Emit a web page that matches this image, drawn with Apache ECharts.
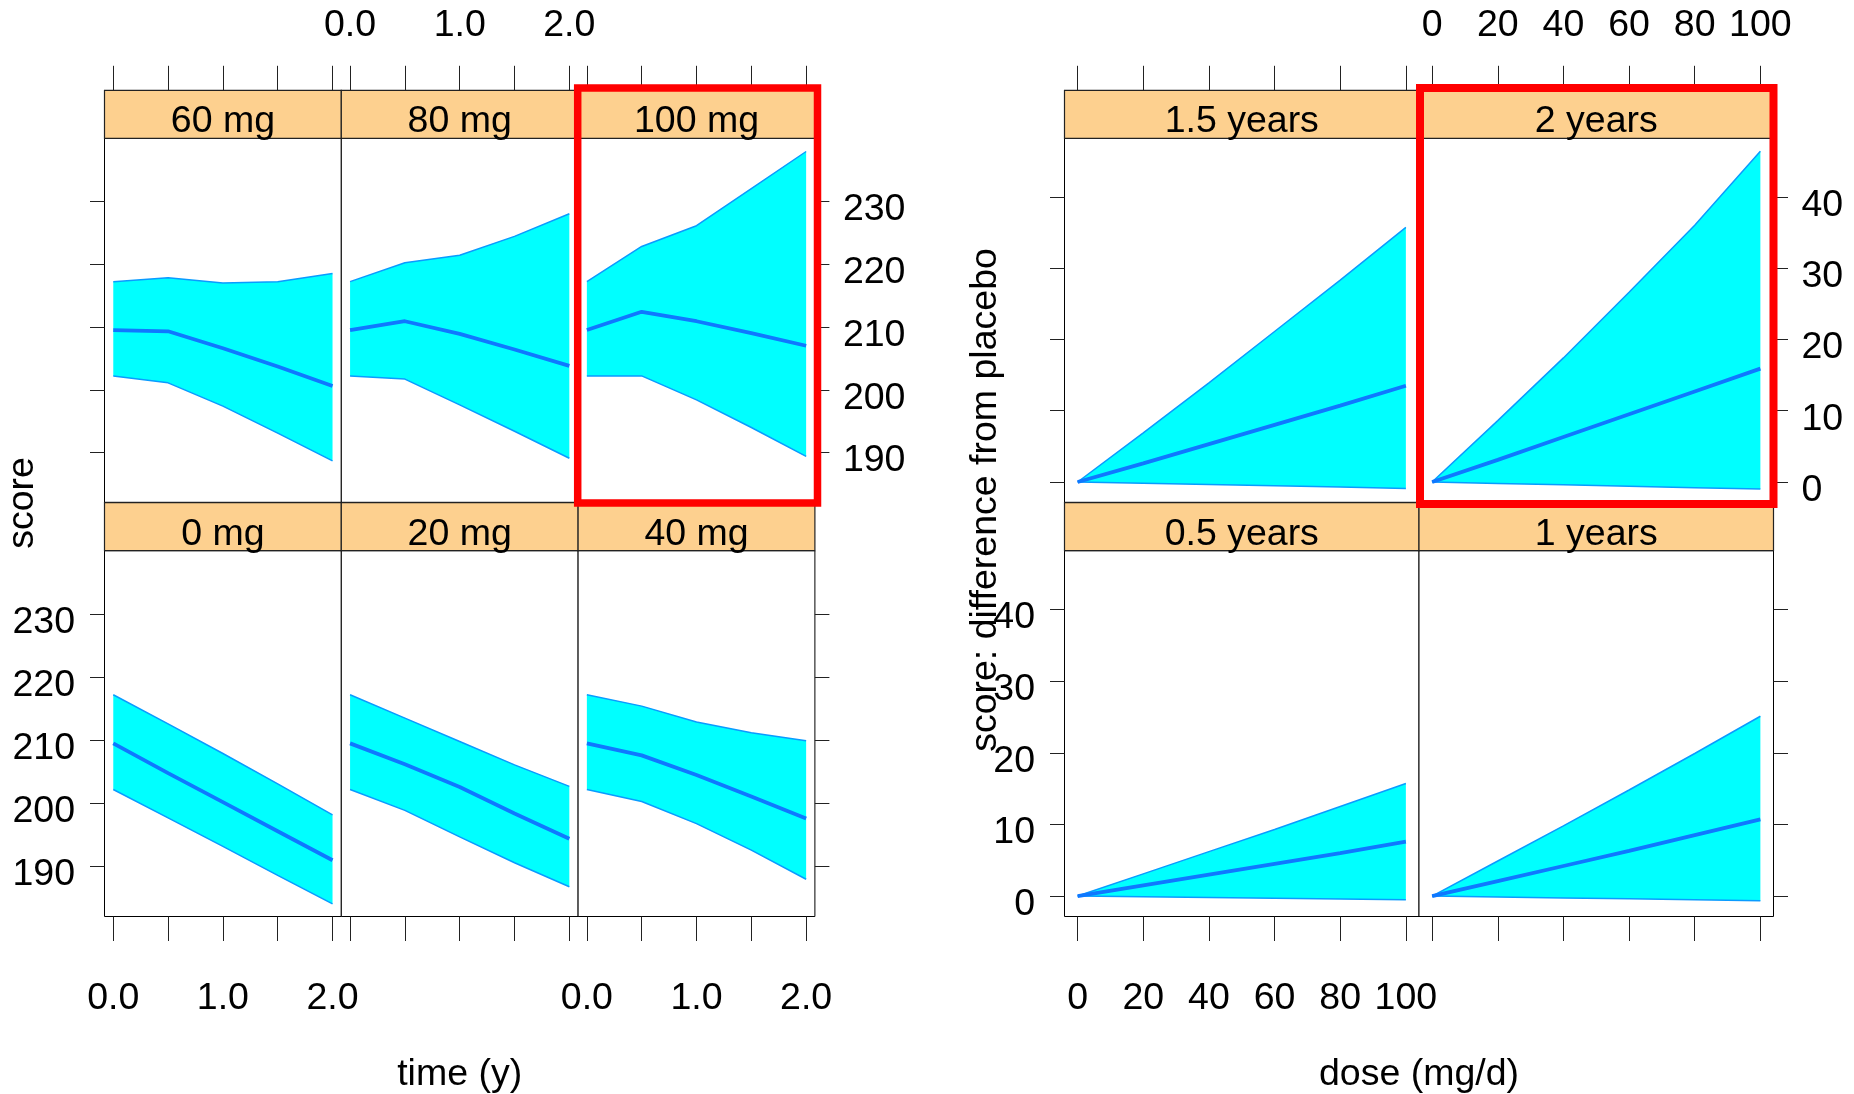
<!DOCTYPE html>
<html><head><meta charset="utf-8">
<script src="https://cdn.jsdelivr.net/npm/echarts@6/dist/echarts.min.js"></script>
<style>html,body{margin:0;padding:0;background:#fff}#c{width:1854px;height:1094px}</style>
</head><body><div id="c"></div>
<script>
// ---------- data ----------
const timePoints = [0, 0.5, 1, 1.5, 2];
const timeTicks = [0, 0.5, 1, 1.5, 2];
const timeTickLabels = [0, 1, 2];
const scoreTicks = [190, 200, 210, 220, 230];

const dosePoints = [0, 20, 40, 60, 80, 100];
const doseTicks = [0, 20, 40, 60, 80, 100];
const diffTicks = [0, 10, 20, 30, 40];

const doseGroups = ['0 mg', '20 mg', '40 mg', '60 mg', '80 mg', '100 mg'];
const mg0Lower   = [202.2, 197.7, 193.2, 188.6, 184.1];
const mg0Mean    = [209.5, 204.8, 200.2, 195.6, 191.0];
const mg0Upper   = [217.2, 212.6, 207.9, 203.1, 198.2];
const mg20Lower  = [202.2, 198.9, 194.7, 190.6, 186.8];
const mg20Mean   = [209.5, 206.2, 202.6, 198.4, 194.4];
const mg20Upper  = [217.2, 213.5, 209.8, 206.1, 202.7];
const mg40Lower  = [202.2, 200.3, 196.8, 192.6, 188.0];
const mg40Mean   = [209.5, 207.6, 204.5, 201.1, 197.6];
const mg40Upper  = [217.2, 215.4, 212.9, 211.2, 209.9];
const mg60Lower  = [202.2, 201.1, 197.4, 193.1, 188.7];
const mg60Mean   = [209.5, 209.3, 206.6, 203.7, 200.6];
const mg60Upper  = [217.2, 217.8, 217.0, 217.2, 218.5];
const mg80Lower  = [202.2, 201.7, 197.6, 193.4, 189.1];
const mg80Mean   = [209.5, 210.9, 208.9, 206.4, 203.8];
const mg80Upper  = [217.2, 220.2, 221.4, 224.4, 228.0];
const mg100Lower = [202.2, 202.2, 198.4, 194.0, 189.4];
const mg100Mean  = [209.5, 212.4, 210.9, 209.0, 207.0];
const mg100Upper = [217.2, 222.8, 226.1, 232.0, 237.9];

const yearGroups = ['0.5 years', '1 years', '1.5 years', '2 years'];
const y05Lower = [0, -0.1, -0.2, -0.3, -0.4, -0.5];
const y05Mean  = [0, 1.5, 3.0, 4.5, 6.0, 7.6];
const y05Upper = [0, 3.1, 6.2, 9.3, 12.5, 15.7];
const y1Lower  = [0, -0.13, -0.26, -0.39, -0.52, -0.65];
const y1Mean   = [0, 2.1, 4.2, 6.3, 8.5, 10.7];
const y1Upper  = [0, 4.9, 9.8, 14.8, 19.9, 25.1];
const y15Lower = [0, -0.18, -0.36, -0.54, -0.72, -0.9];
const y15Mean  = [0, 2.6, 5.3, 8.0, 10.7, 13.5];
const y15Upper = [0, 6.9, 13.9, 21.1, 28.3, 35.7];
const y2Lower  = [0, -0.2, -0.4, -0.6, -0.8, -1.0];
const y2Mean   = [0, 3.1, 6.3, 9.5, 12.7, 15.9];
const y2Upper  = [0, 8.6, 17.4, 26.6, 36.0, 46.4];

// ---------- layout ----------
const FONT = '"Liberation Sans", Arial, Helvetica, sans-serif';
const FS = 37.5;
const STRIP_H = 48;
const rowTop = [138.3, 550.7];
const rowH = [364, 365.8];
const leftCols = [104.5, 341.3, 578.1];
const leftW = 236.8;
const rightCols = [1064.5, 1419];
const rightW = 354.5;
const FILL = '#00FFFF', EDGE = '#0A9BFF', MEANC = '#0F78FF';
const STRIP = '#FDD08F';

const panels = [];
const leftData = [
  [mg0Lower, mg0Mean, mg0Upper], [mg20Lower, mg20Mean, mg20Upper], [mg40Lower, mg40Mean, mg40Upper],
  [mg60Lower, mg60Mean, mg60Upper], [mg80Lower, mg80Mean, mg80Upper], [mg100Lower, mg100Mean, mg100Upper]
];
for (let i = 0; i < 6; i++) {
  const row = i < 3 ? 1 : 0, col = i % 3;
  panels.push({
    label: doseGroups[i], x: timePoints, d: leftData[i],
    left: leftCols[col], top: rowTop[row], width: leftW, height: rowH[row],
    xMin: -0.08, xMax: 2.08, yMin: 182.1, yMax: 240,
    xTicks: timeTicks, xLabels: timeTickLabels, yTicks: scoreTicks, yLabels: scoreTicks,
    fmt: v => Number(v).toFixed(1),
    topTicks: row === 0, topLabels: row === 0 && col === 1,
    bottomTicks: row === 1, bottomLabels: row === 1 && col !== 1,
    leftTicks: col === 0, leftLabels: col === 0 && row === 1,
    rightTicks: col === 2, rightLabels: col === 2 && row === 0
  });
}
const rightData = [
  [y05Lower, y05Mean, y05Upper], [y1Lower, y1Mean, y1Upper],
  [y15Lower, y15Mean, y15Upper], [y2Lower, y2Mean, y2Upper]
];
for (let i = 0; i < 4; i++) {
  const row = i < 2 ? 1 : 0, col = i % 2;
  panels.push({
    label: yearGroups[i], x: dosePoints, d: rightData[i],
    left: rightCols[col], top: rowTop[row], width: rightW, height: rowH[row],
    xMin: -4, xMax: 104, yMin: -2.85, yMax: 48.2,
    xTicks: doseTicks, xLabels: doseTicks, yTicks: diffTicks, yLabels: diffTicks,
    fmt: v => String(v),
    topTicks: row === 0, topLabels: row === 0 && col === 1,
    bottomTicks: row === 1, bottomLabels: row === 1 && col === 0,
    leftTicks: col === 0, leftLabels: col === 0 && row === 1,
    rightTicks: col === 1, rightLabels: col === 1 && row === 0
  });
}

// ---------- option ----------
const grid = [], xAxis = [], yAxis = [], series = [], graphic = [];
const tickStyle = { color: '#222', width: 1 };
const lblStyle = { color: '#000', fontSize: FS, fontFamily: FONT };
const noLine = { show: false, onZero: false };

panels.forEach((p, i) => {
  grid.push({ left: p.left, top: p.top, width: p.width, height: p.height,
    show: true, borderColor: '#000', borderWidth: 1, backgroundColor: '#fff',
    containLabel: false, outerBoundsMode: 'none' });
  const xBase = { type: 'value', gridIndex: i, min: p.xMin, max: p.xMax,
    axisLine: noLine, splitLine: { show: false } };
  xAxis.push(Object.assign({}, xBase, { position: 'bottom', show: p.bottomTicks,
    axisTick: { show: true, inside: false, length: 24.5, lineStyle: tickStyle, customValues: p.xTicks },
    axisLabel: Object.assign({ show: p.bottomLabels, margin: 63, formatter: p.fmt, customValues: p.xLabels }, lblStyle) }));
  xAxis.push(Object.assign({}, xBase, { position: 'top', offset: STRIP_H, show: p.topTicks,
    axisTick: { show: true, inside: false, length: 24.5, lineStyle: tickStyle, customValues: p.xTicks },
    axisLabel: Object.assign({ show: p.topLabels, margin: 46, formatter: p.fmt, customValues: p.xLabels }, lblStyle) }));
  const yBase = { type: 'value', gridIndex: i, min: p.yMin, max: p.yMax,
    axisLine: noLine, splitLine: { show: false } };
  yAxis.push(Object.assign({}, yBase, { position: 'left', show: p.leftTicks,
    axisTick: { show: true, inside: false, length: 14.5, lineStyle: tickStyle, customValues: p.yTicks },
    axisLabel: Object.assign({ show: p.leftLabels, margin: 29.5, verticalAlign: 'top', lineHeight: 17, customValues: p.yLabels }, lblStyle) }));
  yAxis.push(Object.assign({}, yBase, { position: 'right', show: p.rightTicks,
    axisTick: { show: true, inside: false, length: 14.5, lineStyle: tickStyle, customValues: p.yTicks },
    axisLabel: Object.assign({ show: p.rightLabels, margin: 28, align: 'left', verticalAlign: 'top', lineHeight: 17, customValues: p.yLabels }, lblStyle) }));

  const [lo, mean, up] = p.d;
  const xi = 2 * i, yi = 2 * i;
  // confidence band polygon (drawn through the axes' scales)
  series.push({ type: 'custom', xAxisIndex: xi, yAxisIndex: yi, z: 2, silent: true,
    data: p.x.map((x, k) => [x, lo[k], up[k]]),
    encode: { x: 0, y: [1, 2] },
    renderItem: function (params, api) {
      if (params.dataIndex !== 0) return;
      const top = p.x.map((x, k) => api.coord([x, up[k]]));
      const bot = p.x.map((x, k) => api.coord([x, lo[k]])).reverse();
      return { type: 'polygon', shape: { points: top.concat(bot) },
        style: { fill: FILL, stroke: null } };
    } });
  series.push({ type: 'line', xAxisIndex: xi, yAxisIndex: yi, z: 4, silent: true,
    data: p.x.map((x, k) => [x, lo[k]]), showSymbol: false, symbol: 'none',
    lineStyle: { color: EDGE, width: 1.5 } });
  series.push({ type: 'line', xAxisIndex: xi, yAxisIndex: yi, z: 4, silent: true,
    data: p.x.map((x, k) => [x, up[k]]), showSymbol: false, symbol: 'none',
    lineStyle: { color: EDGE, width: 1.5 } });
  series.push({ type: 'line', xAxisIndex: xi, yAxisIndex: yi, z: 5, silent: true,
    data: p.x.map((x, k) => [x, mean[k]]), showSymbol: false, symbol: 'none',
    lineStyle: { color: MEANC, width: 3.8 } });

  // strip
  graphic.push({ type: 'rect', z: 50,
    shape: { x: p.left, y: p.top - STRIP_H, width: p.width, height: STRIP_H },
    style: { fill: STRIP, stroke: '#222', lineWidth: 1.2 } });
  graphic.push({ type: 'text', z: 51, x: p.left + p.width / 2, y: p.top - STRIP_H / 2 + 7.5,
    style: { text: p.label, fontSize: FS, fontFamily: FONT, fill: '#000', align: 'center', verticalAlign: 'middle' } });
});

// axis titles
graphic.push({ type: 'text', z: 60, x: 23, y: 503, rotation: Math.PI / 2,
  style: { text: 'score', fontSize: FS, fontFamily: FONT, fill: '#000', align: 'center', verticalAlign: 'middle' } });
graphic.push({ type: 'text', z: 60, x: 986, y: 500, rotation: Math.PI / 2,
  style: { text: 'score: difference from placebo', fontSize: FS, fontFamily: FONT, fill: '#000', align: 'center', verticalAlign: 'middle' } });
graphic.push({ type: 'text', z: 60, x: 459.7, y: 1074.5,
  style: { text: 'time (y)', fontSize: FS, fontFamily: FONT, fill: '#000', align: 'center', verticalAlign: 'middle' } });
graphic.push({ type: 'text', z: 60, x: 1419, y: 1074.5,
  style: { text: 'dose (mg/d)', fontSize: FS, fontFamily: FONT, fill: '#000', align: 'center', verticalAlign: 'middle' } });

// highlight boxes
graphic.push({ type: 'rect', z: 100, shape: { x: 577.7, y: 88, width: 239.8, height: 415 },
  style: { fill: 'none', stroke: '#FF0000', lineWidth: 7.5 } });
graphic.push({ type: 'rect', z: 100, shape: { x: 1420, y: 88, width: 353.5, height: 416 },
  style: { fill: 'none', stroke: '#FF0000', lineWidth: 8 } });

const chart = echarts.init(document.getElementById('c'), null, { renderer: 'canvas' });
chart.setOption({ animation: false, backgroundColor: '#fff', grid, xAxis, yAxis, series, graphic });
</script></body></html>
